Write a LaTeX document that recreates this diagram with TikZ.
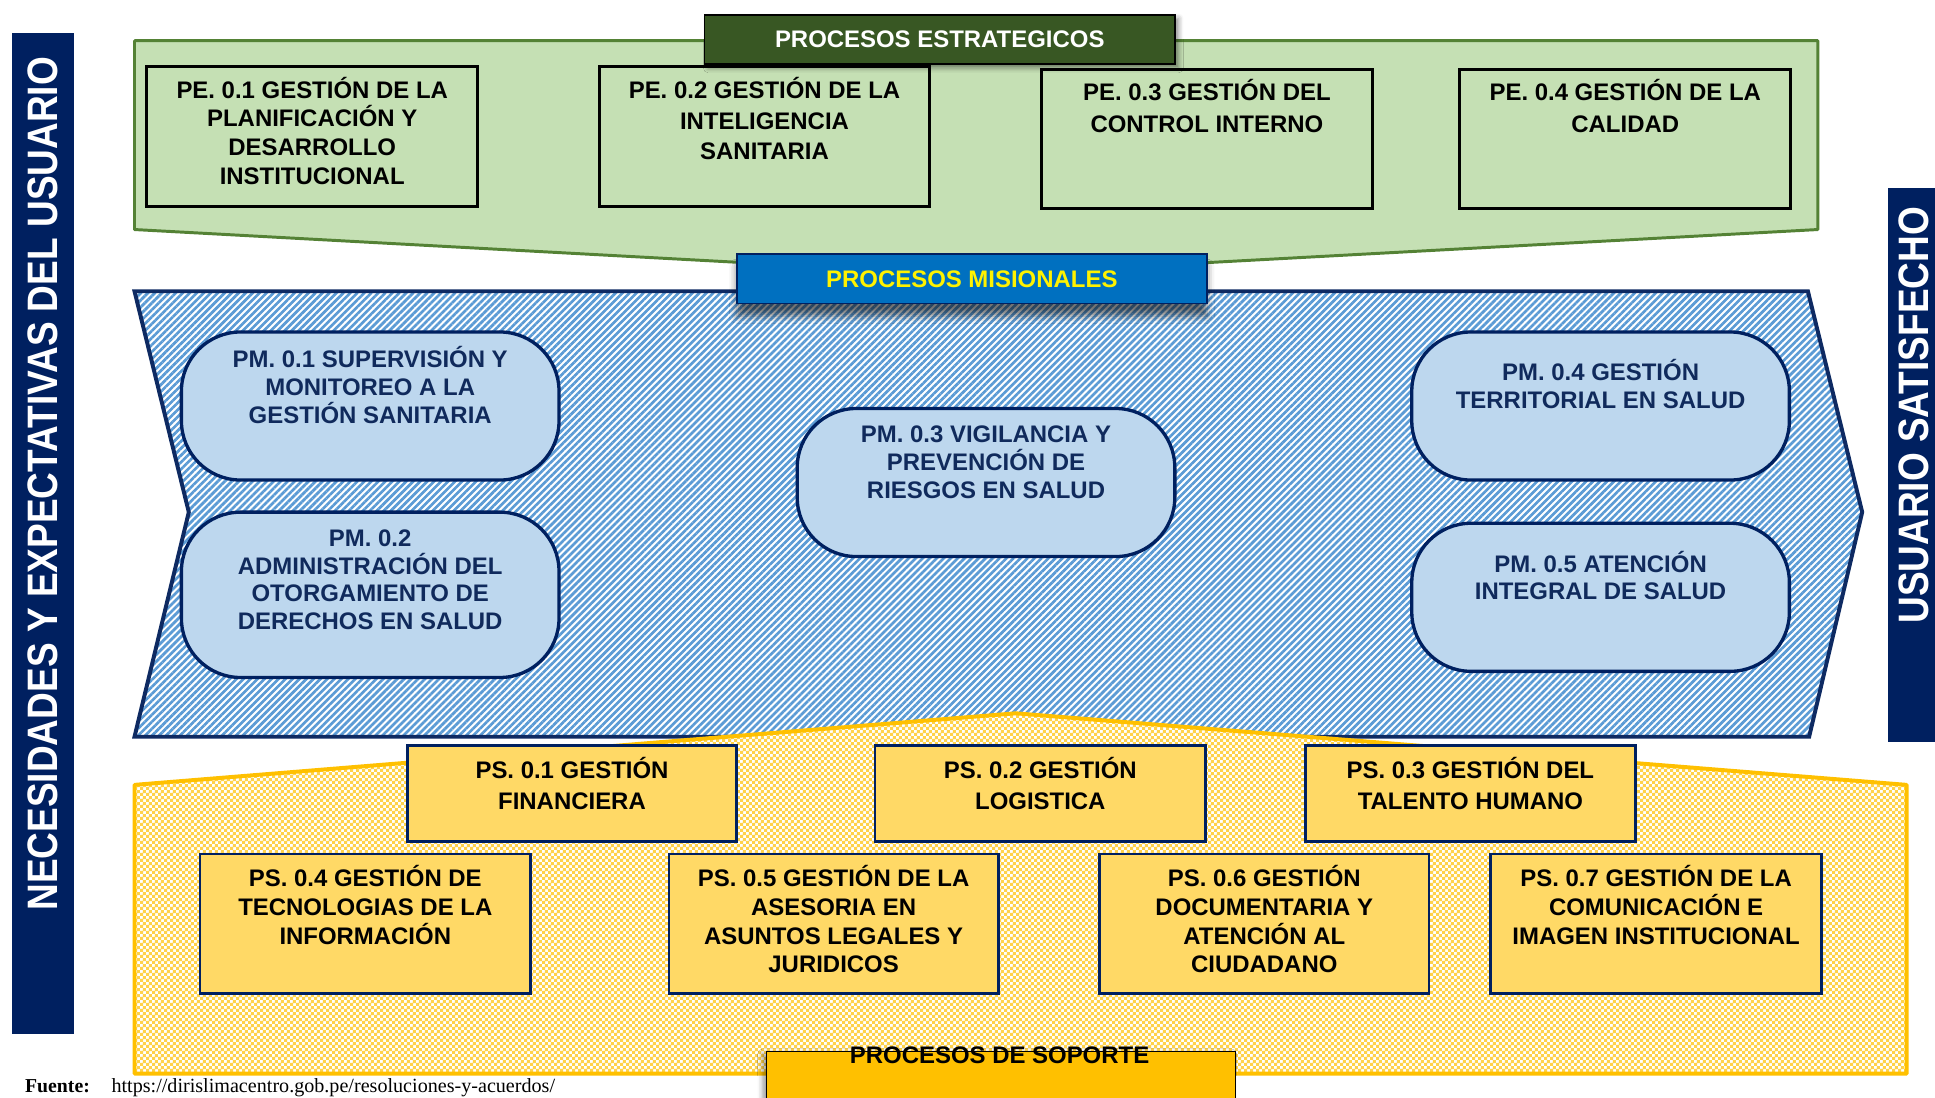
\documentclass[tikz,border=0pt]{standalone}
\usepackage{graphicx}
\usepackage{fontspec}
\setmainfont{Liberation Sans}
\newfontfamily\seriffont{Liberation Serif}
\usetikzlibrary{patterns,patterns.meta,shadows.blur}

\pgfdeclarepatternformonly{smallchecks}{\pgfpointorigin}{\pgfqpoint{2.6pt}{2.6pt}}{\pgfqpoint{2.6pt}{2.6pt}}{%
 \pgfpathrectangle{\pgfpointorigin}{\pgfqpoint{1.35pt}{1.35pt}}%
 \pgfpathrectangle{\pgfqpoint{1.3pt}{1.3pt}}{\pgfqpoint{1.35pt}{1.35pt}}%
 \pgfusepath{fill}}

\definecolor{navy}{HTML}{002060}
\definecolor{pmtext}{HTML}{102A5C}
\definecolor{chev}{HTML}{0E2A62}
\definecolor{gfill}{HTML}{C5E0B4}
\definecolor{gline}{HTML}{548235}
\definecolor{gdark}{HTML}{385723}
\definecolor{bbanner}{HTML}{0070C0}
\definecolor{hatch}{HTML}{5B9BD5}
\definecolor{pmfill}{HTML}{BDD7EE}
\definecolor{yline}{HTML}{FFC000}
\definecolor{ychk}{HTML}{FFD24A}
\definecolor{psfill}{HTML}{FFD966}
\definecolor{ybanner}{HTML}{FFC000}

\newcommand\procbox[9]{%
  \node[#2, minimum width={(#5-#3)*0.5pt}, minimum height={(#6-#4)*0.5pt}] (#1) at ({(#3+#5)/2},{(#4+#6)/2}) {};
  \node[#9, anchor=north] (#1t) at ({(#3+#5)/2},#7) {\vphantom{Ó}#8};
}

\tikzset{
  pebox/.style={draw=black, line width=1.2pt, fill=gfill, inner sep=0, outer sep=0},
  pmbox/.style={draw=navy, line width=1.35pt, fill=pmfill, rounded corners=24pt, inner sep=0, outer sep=0},
  psbox/.style={draw=navy, line width=1.1pt, fill=psfill, inner sep=0, outer sep=0},
  txtA/.style={font=\bfseries\fontsize{9.7}{11.6}\selectfont, align=center, inner sep=0, text=black},
  txtB/.style={font=\bfseries\fontsize{9.7}{13}\selectfont, align=center, inner sep=0, text=black},
  txtC/.style={font=\bfseries\fontsize{9.7}{12.5}\selectfont, align=center, inner sep=0, text=black},
  txtM/.style={font=\bfseries\fontsize{9.7}{11.3}\selectfont, align=center, inner sep=0, text=pmtext},
  banner/.style={inner sep=0, outer sep=0, font=\bfseries\fontsize{9.7}{11.6}\selectfont},
  vtext/.style={rotate=90, inner sep=0, text=white, font=\bfseries\fontsize{15}{18}\selectfont},
}

\begin{document}
\begin{tikzpicture}[x=0.5pt, y=-0.5pt]
\useasboundingbox (0,0) rectangle (1568,889);

% ---- Strategic area
\draw[fill=gfill, draw=gline, line width=1.2pt, line join=round]
  (109,33) -- (1473,33) -- (1473,186) -- (790,223) -- (109,186) -- cycle;

\procbox{pe1}{pebox}{119}{54}{387}{167}{62}{PE. 0.1 GESTIÓN DE LA\\PLANIFICACIÓN Y\\DESARROLLO\\INSTITUCIONAL}{txtA}
\procbox{pe2}{pebox}{486}{54}{753}{167}{62}{PE. 0.2 GESTIÓN DE LA\\INTELIGENCIA\\SANITARIA}{txtC}
\procbox{pe3}{pebox}{844}{56}{1112}{169}{64}{PE. 0.3 GESTIÓN DEL\\CONTROL INTERNO}{txtB}
\procbox{pe4}{pebox}{1183}{56}{1451}{169}{64}{PE. 0.4 GESTIÓN DE LA\\CALIDAD}{txtB}

\node[banner, fill=gdark, draw=black, line width=0.6pt, text=white,
      minimum width=190.5pt, minimum height=20pt,
      blur shadow={shadow xshift=1.5pt, shadow yshift=-1.5pt, shadow blur radius=2pt, shadow opacity=45}]
  (pest) at (761.5,32) {PROCESOS ESTRATEGICOS};

% ---- Mission chevron
\path[pattern={Lines[angle=45,distance=2pt,line width=1.1pt]}, pattern color=hatch]
  (109,236) -- (1465,236) -- (1509,415) -- (1466,597) -- (109,597) -- (153,415) -- cycle;
\draw[draw=chev, line width=1.6pt, line join=miter]
  (109,236) -- (1465,236) -- (1509,415) -- (1466,597) -- (109,597) -- (153,415) -- cycle;

\procbox{pm1}{pmbox}{147}{269}{453}{389}{280}{PM. 0.1 SUPERVISIÓN Y\\MONITOREO A LA\\GESTIÓN SANITARIA}{txtM}
\procbox{pm2}{pmbox}{147}{415}{453}{549}{425}{PM. 0.2\\ADMINISTRACIÓN DEL\\OTORGAMIENTO DE\\DERECHOS EN SALUD}{txtM}
\procbox{pm3}{pmbox}{646}{331}{952}{451}{341}{PM. 0.3 VIGILANCIA Y\\PREVENCIÓN DE\\RIESGOS EN SALUD}{txtM}
\procbox{pm4}{pmbox}{1144}{269}{1450}{389}{291}{PM. 0.4 GESTIÓN\\TERRITORIAL EN SALUD}{txtM}
\procbox{pm5}{pmbox}{1144}{424}{1450}{544}{446}{PM. 0.5 ATENCIÓN\\INTEGRAL DE SALUD}{txtM}

% ---- Support area
\path[preaction={fill=white}, pattern=smallchecks, pattern color=ychk]
  (109,636) -- (823,578) -- (1545,636) -- (1545,870) -- (109,870) -- cycle;
\draw[draw=yline, line width=1.6pt, line join=round]
  (109,636) -- (823,578) -- (1545,636) -- (1545,870) -- (109,870) -- cycle;

\procbox{ps1}{psbox}{330}{604}{597}{682}{613}{PS. 0.1 GESTIÓN\\FINANCIERA}{txtC}
\procbox{ps2}{psbox}{709}{604}{977}{682}{613}{PS. 0.2 GESTIÓN\\LOGISTICA}{txtC}
\procbox{ps3}{psbox}{1058}{604}{1325}{682}{613}{PS. 0.3 GESTIÓN DEL\\TALENTO HUMANO}{txtC}
\procbox{ps4}{psbox}{162}{692}{430}{805}{701}{PS. 0.4 GESTIÓN DE\\TECNOLOGIAS DE LA\\INFORMACIÓN}{txtA}
\procbox{ps5}{psbox}{542}{692}{809}{805}{701}{PS. 0.5 GESTIÓN DE LA\\ASESORIA EN\\ASUNTOS LEGALES Y\\JURIDICOS}{txtA}
\procbox{ps6}{psbox}{891}{692}{1158}{805}{701}{PS. 0.6 GESTIÓN\\DOCUMENTARIA Y\\ATENCIÓN AL\\CIUDADANO}{txtA}
\procbox{ps7}{psbox}{1208}{692}{1476}{805}{701}{PS. 0.7 GESTIÓN DE LA\\COMUNICACIÓN E\\IMAGEN INSTITUCIONAL}{txtA}

\node[fill=ybanner, draw=black, line width=0.6pt, inner sep=0, outer sep=0,
      minimum width=190pt, minimum height=30pt,
      blur shadow={shadow xshift=-1.5pt, shadow yshift=-1pt, shadow blur radius=2pt, shadow opacity=40}]
  (psop) at (811,882) {};
\node[banner, text=black] (psopt) at (810,855) {PROCESOS DE SOPORTE};

% ---- Mission banner (over chevron)
\node[banner, fill=bbanner, draw=navy, line width=0.7pt, text=yellow,
      minimum width=190.5pt, minimum height=20pt,
      blur shadow={shadow xshift=0pt, shadow yshift=-5pt, shadow blur radius=3pt, shadow opacity=55}]
  (pmis) at (787.5,226) {PROCESOS MISIONALES};

% ---- Side bars
\node[fill=navy, inner sep=0, outer sep=0, minimum width=25pt, minimum height=405.5pt] (lbar) at (35,432.5) {};
\node[vtext] (lbart) at (35,392) {\scalebox{1}[1.15]{NECESIDADES Y EXPECTATIVAS DEL USUARIO}};
\node[fill=navy, inner sep=0, outer sep=0, minimum width=22pt, minimum height=224.5pt] (rbar) at (1552,376.5) {};
\node[vtext] (rbart) at (1551,336.5) {\scalebox{1}[1.15]{USUARIO SATISFECHO}};

% ---- Footer
\node[anchor=base west, inner sep=0, font=\seriffont\bfseries\fontsize{8}{9.6}\selectfont] (fte) at (20,885) {Fuente:};
\node[anchor=base west, inner sep=0, font=\seriffont\fontsize{8.15}{9.8}\selectfont] (furl) at (90,885) {https://dirislimacentro.gob.pe/resoluciones-y-acuerdos/};
\end{tikzpicture}
\end{document}
